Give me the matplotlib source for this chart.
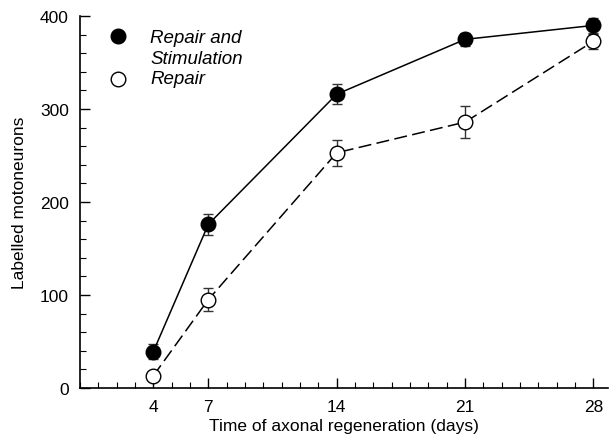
import matplotlib.pyplot as plt
from matplotlib.ticker import MultipleLocator, FixedLocator

plt.rcParams['font.family'] = ['Liberation Sans', 'DejaVu Sans']

days = [4, 7, 14, 21, 28]
stim_mean = [39, 176, 316, 375, 390]
stim_err = [8, 11, 11, 7, 8]
repair_mean = [13, 95, 253, 286, 373]
repair_err = [0, 12, 14, 17, 8]

x_ticks = [4, 7, 14, 21, 28]
y_ticks = [0, 100, 200, 300, 400]

fig = plt.figure(figsize=(6.1, 4.39), dpi=100)
ax = fig.add_axes([0.131, 0.114, 0.866, 0.847])

# error bars behind the markers
ax.errorbar(days, stim_mean, yerr=stim_err, fmt='none', ecolor='#333333',
            elinewidth=1, capsize=3.5, capthick=1, zorder=1)
ax.errorbar(days, repair_mean, yerr=repair_err, fmt='none', ecolor='#333333',
            elinewidth=1, capsize=3.5, capthick=1, zorder=1)

ax.plot(days, stim_mean, color='black', lw=1.1, zorder=2)
ax.plot(days, repair_mean, color='black', lw=1.1, dashes=(8.5, 3.5), zorder=2)
ax.plot(days, stim_mean, 'o', ms=10.5, mfc='black', mec='black', mew=1, zorder=3)
ax.plot(days, repair_mean, 'o', ms=10.5, mfc='white', mec='black', mew=1, zorder=3)

# legend drawn by hand so the marker sits on the first text line
ax.plot([0.072], [0.946], 'o', ms=10.5, mfc='black', mec='black',
        transform=ax.transAxes, clip_on=False)
ax.plot([0.072], [0.831], 'o', ms=10.5, mfc='white', mec='black',
        transform=ax.transAxes, clip_on=False)
ax.text(0.133, 0.915, 'Repair and\nStimulation', transform=ax.transAxes,
        fontsize=13.5, style='italic', va='center', ha='left', linespacing=1.3)
ax.text(0.133, 0.831, 'Repair', transform=ax.transAxes, fontsize=13.5,
        style='italic', va='center', ha='left')

ax.set_xlim(0, 28.8)
ax.set_ylim(0, 400)
ax.xaxis.set_major_locator(FixedLocator(x_ticks))
ax.xaxis.set_minor_locator(MultipleLocator(1))
ax.yaxis.set_major_locator(FixedLocator(y_ticks))
ax.yaxis.set_minor_locator(MultipleLocator(20))
ax.tick_params(which='major', direction='in', length=7, width=1, labelsize=12.5, pad=8)
ax.tick_params(which='minor', direction='in', length=4, width=0.8)
ax.spines['top'].set_visible(False)
ax.spines['right'].set_visible(False)
ax.spines['left'].set_linewidth(1.2)
ax.spines['bottom'].set_linewidth(1.2)

ax.set_xlabel('Time of axonal regeneration (days)', fontsize=12.5, labelpad=3)
ax.set_ylabel('Labelled motoneurons', fontsize=12.5, labelpad=9)

fig.savefig('out.png', dpi=100)
